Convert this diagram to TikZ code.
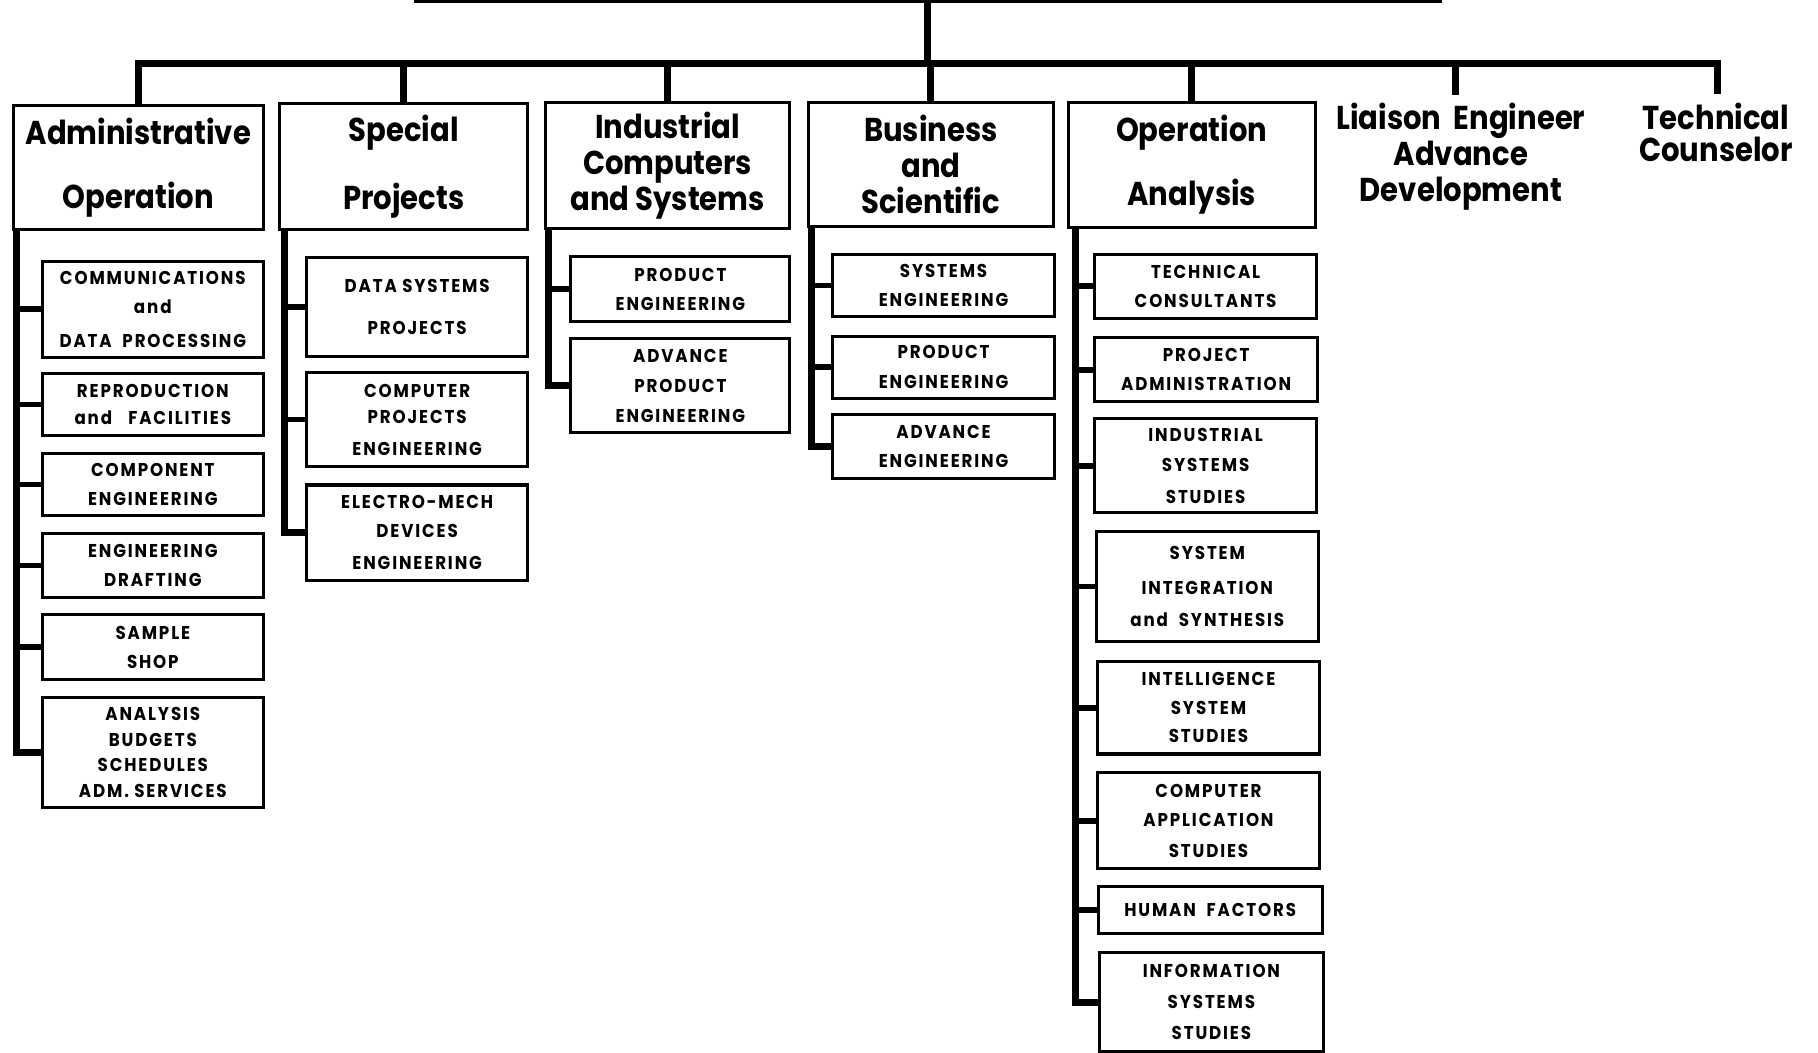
\documentclass[tikz,border=0pt]{standalone}
\usepackage{fontspec}
\setmainfont{Poppins}[FakeStretch=0.9]
\newfontfamily\hdfont{Poppins}[FakeStretch=0.88]
\newfontfamily\sbfont{Poppins}[FakeStretch=0.9,LetterSpace=10]
\begin{document}
\begin{tikzpicture}[x=1pt,y=-1pt,
  box/.style={draw, line width=2.6pt, inner sep=0pt, align=center},
  head/.style={box, anchor=north west, font=\hdfont\bfseries\fontsize{28.5}{31}\selectfont},
  plainhead/.style={inner sep=0pt, align=center, anchor=north, font=\hdfont\bfseries\fontsize{28.5}{31}\selectfont},
  sub/.style={box, anchor=north west, font=\sbfont\bfseries\fontsize{16}{25}\selectfont},
  bus/.style={line width=6pt, line join=miter},
  spine/.style={line width=6pt, line join=miter},
  stub/.style={line width=5pt}]
\useasboundingbox (0,0) rectangle (1568,908);
\clip (0,0) rectangle (1568,908);

% top box (cut off)
\node[box, minimum width=884, minimum height=60, anchor=south] (top) at (800,3) {};

% heads
\node[head, minimum width=216, minimum height=107] (hAdm) at (10,90) {Administrative\\[24pt]Operation};
\node[head, minimum width=214, minimum height=109] (hSpe) at (240,88) {Special\\[27pt]Projects};
\node[head, minimum width=211, minimum height=109] (hInd) at (469,87) {Industrial\\Computers\\and Systems};
\node[head, minimum width=211, minimum height=107] (hBus) at (696,87) {Business\\and\\Scientific};
\node[head, minimum width=213, minimum height=108] (hOpe) at (920,87) {Operation\\[24pt]Analysis};
\node[plainhead] (tLia) at (1260,89) {Liaison~~Engineer\\Advance\\Development};
\node[plainhead, font=\hdfont\bfseries\fontsize{28.5}{27}\selectfont] (tTech) at (1480,89) {Technical\\Counselor};
\coordinate (dLia) at (1255,82);
\coordinate (dTech) at (1481,81);

% bus
\coordinate (busy) at (800,55);
\draw[bus] (hAdm.north) |- (busy) -| (dTech);
\draw[bus] (top.south) -- (busy);
\draw[bus] (hSpe.north) -- (hSpe.north |- busy);
\draw[bus] (hInd.north) -- (hInd.north |- busy);
\draw[bus] (hBus.north) -- (hBus.north |- busy);
\draw[bus] (hOpe.north) -- (hOpe.north |- busy);
\draw[bus] (dLia) -- (dLia |- busy);

% Administrative
\node[sub, minimum width=191, minimum height=83] (a1) at (35,224) {COMMUNICATIONS\\and\\[4pt]DATA~~PROCESSING};
\node[sub, minimum width=191, minimum height=53] (a2) at (35,321) {REPRODUCTION\\[-2pt]and~~~FACILITIES};
\node[sub, minimum width=191, minimum height=53] (a3) at (35,390) {COMPONENT\\ENGINEERING};
\node[sub, minimum width=191, minimum height=55] (a4) at (35,459) {ENGINEERING\\DRAFTING};
\node[sub, minimum width=191, minimum height=56] (a5) at (35,529) {SAMPLE\\SHOP};
\node[sub, minimum width=191, minimum height=95] (a6) at (35,600) {ANALYSIS\\[-3pt]BUDGETS\\[-3pt]SCHEDULES\\[-3pt]ADM.~SERVICES};
\path ([xshift=4pt]hAdm.south west) coordinate (sA);
\draw[spine] (sA) |- (a6.west);
\foreach \n in {a1,a2,a3,a4,a5} \draw[stub] (\n.west) -- (\n.west -| sA);

% Special
\node[sub, minimum width=191, minimum height=85] (s1) at (263,221) {DATA SYSTEMS\\[11pt]PROJECTS};
\node[sub, minimum width=191, minimum height=81] (s2) at (263,320) {COMPUTER\\[-2pt]PROJECTS\\[2pt]ENGINEERING};
\node[sub, minimum width=191, minimum height=82] (s3) at (263,417) {ELECTRO-MECH\\DEVICES\\[2pt]ENGINEERING};
\path ([xshift=5pt]hSpe.south west) coordinate (sS);
\draw[spine] (sS) |- (s3.west);
\foreach \n in {s1,s2} \draw[stub] (\n.west) -- (\n.west -| sS);

% Industrial
\node[sub, minimum width=189, minimum height=56] (i1) at (491,220) {PRODUCT\\ENGINEERING};
\node[sub, minimum width=189, minimum height=81] (i2) at (491,291) {ADVANCE\\[1pt]PRODUCT\\[1pt]ENGINEERING};
\path ([xshift=4pt]hInd.south west) coordinate (sI);
\draw[spine] (sI) |- (i2.west);
\draw[stub] (i1.west) -- (i1.west -| sI);

% Business
\node[sub, minimum width=191, minimum height=54] (b1) at (717,218) {SYSTEMS\\ENGINEERING};
\node[sub, minimum width=191, minimum height=53] (b2) at (717,289) {PRODUCT\\[1pt]ENGINEERING};
\node[sub, minimum width=191, minimum height=55] (b3) at (717,356) {ADVANCE\\ENGINEERING};
\path ([xshift=4pt]hBus.south west) coordinate (sB);
\draw[spine] (sB) |- (b3.west);
\foreach \n in {b1,b2} \draw[stub] (\n.west) -- (\n.west -| sB);

% Operation
\node[sub, minimum width=191, minimum height=55] (o1) at (943,218) {TECHNICAL\\CONSULTANTS};
\node[sub, minimum width=192, minimum height=55] (o2) at (943,290) {PROJECT\\ADMINISTRATION};
\node[sub, minimum width=191, minimum height=81] (o3) at (943,360) {INDUSTRIAL\\[1pt]SYSTEMS\\[2pt]STUDIES};
\node[sub, minimum width=192, minimum height=95] (o4) at (944,457) {SYSTEM\\[5pt]INTEGRATION\\[2pt]and~~SYNTHESIS};
\node[sub, minimum width=192, minimum height=80] (o5) at (945,569) {INTELLIGENCE\\SYSTEM\\[-1pt]STUDIES};
\node[sub, minimum width=192, minimum height=83] (o6) at (945,665) {COMPUTER\\APPLICATION\\[2pt]STUDIES};
\node[sub, minimum width=193, minimum height=41] (o7) at (946,763) {HUMAN~~FACTORS};
\node[sub, minimum width=193, minimum height=86] (o8) at (947,820) {INFORMATION\\[1pt]SYSTEMS\\[2pt]STUDIES};
\path ([xshift=8pt]hOpe.south west) coordinate (sO);
\draw[spine] (sO) |- (o8.west);
\foreach \n in {o1,o2,o3,o4,o5,o6,o7} \draw[stub] (\n.west) -- (\n.west -| sO);
\end{tikzpicture}
\end{document}
